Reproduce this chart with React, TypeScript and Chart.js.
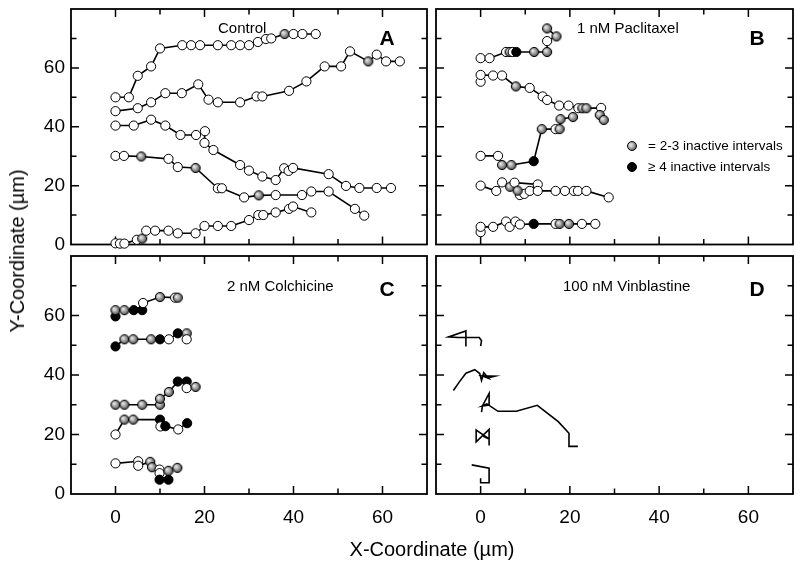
import React, { useEffect, useRef } from "react";
import { Chart, registerables } from "chart.js";
Chart.register(...registerables);

// status codes: 0 = open (active), 1 = 2-3 inactive intervals (gray), 2 = >=4 inactive intervals (black)

// ---- Panel A: Control ----
const A1_X = [0, 3, 5, 8, 10, 15, 17, 19, 23, 26, 28, 30, 32, 33.8, 35, 38, 40, 42, 45];
const A1_Y = [50, 50, 57.3, 60.5, 66.6, 67.7, 67.7, 67.7, 67.7, 67.7, 67.7, 67.7, 68.8, 69.8, 70, 71.5, 71.5, 71.5, 71.5];
const A1_S = [0, 0, 0, 0, 0, 0, 0, 0, 0, 0, 0, 0, 0, 0, 0, 1, 0, 0, 0];

const A2_X = [0, 5, 8, 11.2, 14.9, 18.6, 20.9, 23, 28, 31.7, 33, 39, 42.9, 47, 50.7, 52.7, 56.8, 58.7, 60.8, 63.9];
const A2_Y = [45.3, 46.3, 48.3, 51.4, 51.4, 54.4, 49.2, 48.3, 48.3, 50.3, 50.3, 52.2, 55.4, 60.5, 60.5, 65.6, 62.2, 64.5, 62.2, 62.2];
const A2_S = [0, 0, 0, 0, 0, 0, 0, 0, 0, 0, 0, 0, 0, 0, 0, 0, 1, 0, 0, 0];

const A3_X = [0, 4.1, 8, 11.2, 14.6, 18.1, 20.1, 20, 22, 28, 30, 33, 36, 37.9, 38.9, 39.9, 47.9, 51.8, 54.8, 58.7, 61.9];
const A3_Y = [40.4, 40.4, 42.4, 40.4, 37.2, 37.2, 38.5, 34.5, 32.1, 27, 25.1, 23.1, 21.9, 25.9, 25, 26, 23.9, 19.9, 19.2, 19.2, 19.2];
const A3_S = [0, 0, 0, 0, 0, 0, 0, 0, 0, 0, 0, 0, 0, 0, 0, 0, 0, 0, 0, 0, 0];

const A4_X = [0, 1.9, 5.8, 11.9, 14, 18, 23, 23.9, 28.9, 32.2, 36, 41.9, 44, 47.9, 53.8, 55.9];
const A4_Y = [30.1, 30.1, 29.9, 29.1, 26.3, 26, 19.1, 19.1, 16, 16.7, 16.8, 16.8, 18, 18, 12.1, 9.8];
const A4_S = [0, 0, 1, 0, 0, 1, 0, 0, 0, 1, 0, 0, 0, 0, 0, 0];

const A5_X = [0, 1, 2, 4.8, 6, 6.9, 8.9, 11.9, 14, 18, 20, 23, 26, 30, 32.1, 33.2, 36, 39, 39.9, 44];
const A5_Y = [0.4, 0.3, 0.3, 1.6, 2, 4.7, 4.7, 4.7, 3.8, 3.8, 6.3, 6.3, 6.3, 8.3, 10, 10, 10.9, 12.1, 12.9, 10.9];
const A5_S = [0, 0, 0, 0, 1, 0, 0, 0, 0, 0, 0, 0, 0, 0, 0, 0, 0, 0, 0, 0];

// ---- Panel B: 1 nM Paclitaxel ----
const B1_X = [0, 2, 5.7, 6.5, 7.2, 8, 12, 14.9, 14.9, 17, 14.9];
const B1_Y = [63.3, 63.3, 65.4, 65.4, 65.4, 65.4, 65.4, 65.4, 69.1, 70.7, 73.4];
const B1_S = [0, 0, 0, 1, 0, 2, 1, 1, 0, 1, 1];

const B2_X = [0, 0, 2.8, 4.8, 7.9, 11, 13.9, 14.9, 17.6, 19.7, 21.9, 22.8, 23.7, 27, 26.7, 27.6];
const B2_Y = [55.3, 57.6, 57.4, 57.4, 53.7, 53.2, 50.3, 49.1, 47.2, 47.2, 46.3, 46.3, 46.3, 46.4, 44, 42.3];
const B2_S = [0, 0, 0, 0, 1, 0, 0, 0, 0, 0, 0, 1, 1, 0, 1, 1];

const B3_X = [0, 3.9, 4.8, 6.9, 11.9, 13.7, 16.8, 17.7, 17.9, 20.7];
const B3_Y = [30.1, 30.1, 27, 27, 28.3, 39.2, 39.2, 39.2, 42.6, 43.3];
const B3_S = [0, 0, 1, 1, 2, 1, 0, 1, 1, 1];

const B4_X = [0, 3.5, 4.8, 6.6, 7.6, 12.8, 8.8, 9.8, 8.3, 11, 12.8, 16.8, 18.9, 20.9, 21.8, 23.7, 28.7];
const B4_Y = [20, 18.2, 21.1, 19.6, 21, 20.4, 16.8, 17.2, 18.3, 18.2, 18.2, 18.2, 18.2, 18.2, 18.2, 18.2, 16];
const B4_S = [0, 0, 0, 1, 0, 0, 0, 0, 1, 0, 0, 0, 0, 0, 0, 0, 0];

const B5_X = [0, 0, 2.8, 5.7, 6.5, 7.8, 8.8, 11.9, 16.8, 17.7, 19.8, 22.7, 25.7];
const B5_Y = [4.2, 6, 6, 7.8, 6, 7.8, 6.8, 7, 7, 7, 7, 7, 7];
const B5_S = [0, 0, 0, 0, 0, 0, 0, 2, 0, 1, 1, 0, 0];

// ---- Panel C: 2 nM Colchicine ----
const C1_X = [0, 0, 2, 4.1, 6, 6.2, 10, 13.4, 14];
const C1_Y = [59.7, 61.8, 61.8, 61.8, 61.8, 64.2, 66.2, 66, 66];
const C1_S = [2, 1, 1, 2, 2, 0, 1, 0, 1];

const C2_X = [0, 2, 4, 8, 10, 12, 14, 16, 16];
const C2_Y = [49.6, 52, 52, 52, 52, 52, 54, 54, 52];
const C2_S = [2, 1, 1, 1, 2, 0, 2, 1, 0];

const C3_X = [0, 2, 6, 10, 10, 12, 14, 16, 16, 18];
const C3_Y = [30, 30, 30, 30, 32, 34.3, 37.8, 37.8, 35.6, 36];
const C3_S = [1, 1, 1, 1, 1, 1, 2, 2, 0, 1];

const C4_X = [0, 2, 4, 10, 10.1, 11.2, 14.1, 16.1];
const C4_Y = [20, 25, 25, 25, 22.7, 22.8, 21.7, 23.8];
const C4_S = [0, 1, 1, 2, 0, 2, 0, 2];

const C5_X = [0, 5.1, 5.1, 7.8, 8.2, 9.9, 9.9, 9.9, 11.9, 11.9, 13.9];
const C5_Y = [10.3, 11, 9.5, 10.8, 9, 8.2, 7, 4.8, 4.8, 7.8, 8.8];
const C5_S = [0, 0, 0, 1, 1, 0, 0, 2, 2, 1, 1];

// ---- Panel D: 100 nM Vinblastine (paths only) ----
const D1_X = [-3.3, -3.3, -7.2, -5, -0.3, 0.2, 0];
const D1_Y = [49.6, 54.8, 52.8, 52.6, 52.6, 51.5, 49.7];
const D2_X = [-6.1, -4.8, -3.3, -1.3, -0.2, 0.2, 0.7, 1.8, 0.4, 3.2, 1.6];
const D2_Y = [34.8, 37.6, 40.6, 41.8, 40.5, 38.2, 40.8, 38.9, 39.7, 39.6, 39];
const D3_X = [0.2, 0.4, 1.9, 1.9, 0.4, 1.4, 3.9, 8, 12.7, 17.4, 19.8, 19.8, 21.8];
const D3_Y = [27.5, 29.6, 33.8, 29.9, 29.6, 30.3, 27.8, 27.8, 29.8, 24.3, 20.4, 16, 16];
const D4_X = [1.9, 1.9, -1, -1, 1.9, 0.6];
const D4_Y = [16.3, 21.7, 17.5, 21.5, 18.5, 19.4];
const D5_X = [-2, 1.9, 1.9, 0, 0];
const D5_Y = [9.8, 8.7, 3.8, 3.8, 5.3];

// axis ranges and tick labels
const X_MIN = -10, X_MAX = 70, Y_MIN = 0, Y_MAX = 80, STEP = 10;
const TICK_LABELS = [0, 20, 40, 60];

const FONT = '"Liberation Sans", Arial, Helvetica, sans-serif';

type Track = [number[], number[], number[] | null];

const PANELS = [
  { tracks: [[A1_X, A1_Y, A1_S], [A2_X, A2_Y, A2_S], [A3_X, A3_Y, A3_S], [A4_X, A4_Y, A4_S], [A5_X, A5_Y, A5_S]] as Track[],
    area: { l: 71, t: 9, r: 427, b: 244.5 }, yLab: true, xLab: false },
  { tracks: [[B1_X, B1_Y, B1_S], [B2_X, B2_Y, B2_S], [B3_X, B3_Y, B3_S], [B4_X, B4_Y, B4_S], [B5_X, B5_Y, B5_S]] as Track[],
    area: { l: 436, t: 9, r: 793, b: 244.5 }, yLab: false, xLab: false },
  { tracks: [[C1_X, C1_Y, C1_S], [C2_X, C2_Y, C2_S], [C3_X, C3_Y, C3_S], [C4_X, C4_Y, C4_S], [C5_X, C5_Y, C5_S]] as Track[],
    area: { l: 71, t: 256, r: 427, b: 494 }, yLab: true, xLab: true },
  { tracks: [[D1_X, D1_Y, null], [D2_X, D2_Y, null], [D3_X, D3_Y, null], [D4_X, D4_Y, null], [D5_X, D5_Y, null]] as Track[],
    area: { l: 436, t: 256, r: 793, b: 494 }, yLab: false, xLab: true },
];

const framePlugin = {
  id: "frame",
  beforeDatasetsDraw(chart: any) {
    const { ctx, chartArea: a, scales } = chart;
    const x = scales.x, y = scales.y;
    ctx.save();
    ctx.strokeStyle = "#000";
    ctx.lineWidth = 1.8;
    ctx.strokeRect(a.left, a.top, a.right - a.left, a.bottom - a.top);
    ctx.lineWidth = 1.5;
    ctx.beginPath();
    for (const t of x.ticks) {
      const v = t.value;
      if (v <= x.min || v >= x.max) continue;
      const p = x.getPixelForValue(v);
      const len = TICK_LABELS.includes(v) ? 8 : 5.5;
      ctx.moveTo(p, a.bottom); ctx.lineTo(p, a.bottom - len);
      ctx.moveTo(p, a.top); ctx.lineTo(p, a.top + len);
    }
    for (const t of y.ticks) {
      const v = t.value;
      if (v <= y.min || v >= y.max) continue;
      const p = y.getPixelForValue(v);
      const len = TICK_LABELS.includes(v) ? 8 : 5.5;
      ctx.moveTo(a.left, p); ctx.lineTo(a.left + len, p);
      ctx.moveTo(a.right, p); ctx.lineTo(a.right - len, p);
    }
    ctx.stroke();
    ctx.restore();
  },
};

function makeGraySprite() {
  const c = document.createElement("canvas");
  c.width = 12; c.height = 12;
  const g = c.getContext("2d")!;
  const grad = g.createRadialGradient(4.4, 4.6, 0.3, 6, 6, 5.4);
  grad.addColorStop(0, "#eeeeee");
  grad.addColorStop(0.45, "#a2a2a2");
  grad.addColorStop(1, "#2e2e2e");
  g.beginPath();
  g.arc(6, 6, 4.6, 0, Math.PI * 2);
  g.fillStyle = grad;
  g.fill();
  g.lineWidth = 1;
  g.strokeStyle = "#000";
  g.stroke();
  return c;
}

const tickCb = (v: any) => (TICK_LABELS.includes(Number(v)) ? String(v) : "");

export default function App() {
  const refs = [useRef<HTMLCanvasElement>(null), useRef<HTMLCanvasElement>(null), useRef<HTMLCanvasElement>(null), useRef<HTMLCanvasElement>(null)];

  useEffect(() => {
    const gray = makeGraySprite();
    const charts = PANELS.map((p, idx) => {
      const { l, t, r, b } = p.area;
      const datasets = p.tracks.map(([xs, ys, ss]) => ({
        data: xs.map((xv, i) => ({ x: xv, y: ys[i] })),
        showLine: true,
        borderColor: "#000",
        borderWidth: 1.6,
        tension: 0,
        pointRadius: ss ? 4.6 : 0,
        pointHoverRadius: ss ? 4.6 : 0,
        pointBorderWidth: 1,
        pointBorderColor: "#000",
        pointBackgroundColor: ss ? ss.map((s) => (s === 2 ? "#000" : "#fff")) : "#000",
        pointStyle: ss ? ss.map((s) => (s === 1 ? gray : "circle")) : "circle",
        clip: false as any,
      }));
      return new Chart(refs[idx].current!, {
        type: "scatter",
        data: { datasets },
        plugins: [framePlugin],
        options: {
          animation: false,
          responsive: false,
          devicePixelRatio: 1,
          events: [],
          layout: { padding: { left: p.yLab ? 0 : l, top: t, right: 800 - r, bottom: p.xLab ? 0 : 568 - b } },
          plugins: { legend: { display: false }, tooltip: { enabled: false } },
          scales: {
            x: {
              type: "linear", min: X_MIN, max: X_MAX,
              afterFit: (s: any) => { s.height = p.xLab ? 568 - b : 0; s.paddingLeft = 0; s.paddingRight = 0; },
              grid: { display: false, drawTicks: false },
              border: { display: false },
              ticks: { display: p.xLab, stepSize: STEP, autoSkip: false, maxRotation: 0, callback: tickCb, color: "#000", padding: 12, font: { family: FONT, size: 19 } },
            },
            y: {
              type: "linear", min: Y_MIN, max: Y_MAX,
              afterFit: (s: any) => { s.width = p.yLab ? l : 0; s.paddingTop = 0; s.paddingBottom = 0; },
              grid: { display: false, drawTicks: false },
              border: { display: false },
              ticks: { display: p.yLab, stepSize: STEP, autoSkip: false, callback: tickCb, color: "#000", padding: 6, font: { family: FONT, size: 19 } },
            },
          },
        } as any,
      });
    });
    return () => charts.forEach((c) => c.destroy());
  }, []);

  const abs = (o: any): React.CSSProperties => ({ position: "absolute", whiteSpace: "nowrap", fontFamily: FONT, color: "#000", lineHeight: 1, ...o });
  const grayDot = "radial-gradient(circle at 35% 38%, #eeeeee 0%, #a2a2a2 45%, #2e2e2e 100%)";

  return (
    <div style={{ position: "absolute", left: 0, top: 0, width: 800, height: 568, background: "#fff", overflow: "hidden" }}>
      {refs.map((r, i) => (
        <canvas key={i} ref={r} width={800} height={568} style={{ position: "absolute", left: 0, top: 0, width: 800, height: 568 }} />
      ))}
      <div style={abs({ left: 17, top: 251, fontSize: 20, transform: "translate(-50%,-50%) rotate(-90deg)" })}>Y-Coordinate (µm)</div>
      <div style={abs({ left: 432, top: 549, fontSize: 20, transform: "translate(-50%,-50%)" })}>X-Coordinate (µm)</div>

      <div style={abs({ left: 218, top: 27, fontSize: 15, transform: "translateY(-50%)" })}>Control</div>
      <div style={abs({ left: 577, top: 27, fontSize: 15, transform: "translateY(-50%)" })}>1 nM Paclitaxel</div>
      <div style={abs({ left: 227, top: 285, fontSize: 15, transform: "translateY(-50%)" })}>2 nM Colchicine</div>
      <div style={abs({ left: 563, top: 285, fontSize: 15, transform: "translateY(-50%)" })}>100 nM Vinblastine</div>

      <div style={abs({ left: 387, top: 37, fontSize: 21, fontWeight: "bold", transform: "translate(-50%,-50%)" })}>A</div>
      <div style={abs({ left: 757, top: 37, fontSize: 21, fontWeight: "bold", transform: "translate(-50%,-50%)" })}>B</div>
      <div style={abs({ left: 387, top: 288, fontSize: 21, fontWeight: "bold", transform: "translate(-50%,-50%)" })}>C</div>
      <div style={abs({ left: 757, top: 288, fontSize: 21, fontWeight: "bold", transform: "translate(-50%,-50%)" })}>D</div>

      <div style={abs({ left: 627, top: 141, width: 8, height: 8, borderRadius: "50%", border: "1px solid #000", background: grayDot })} />
      <div style={abs({ left: 648, top: 146, fontSize: 13.5, transform: "translateY(-50%)" })}>= 2-3 inactive intervals</div>
      <div style={abs({ left: 627, top: 161.5, width: 8, height: 8, borderRadius: "50%", border: "1px solid #000", background: "#000" })} />
      <div style={abs({ left: 648, top: 166.5, fontSize: 13.5, transform: "translateY(-50%)" })}>≥ 4 inactive intervals</div>
    </div>
  );
}
